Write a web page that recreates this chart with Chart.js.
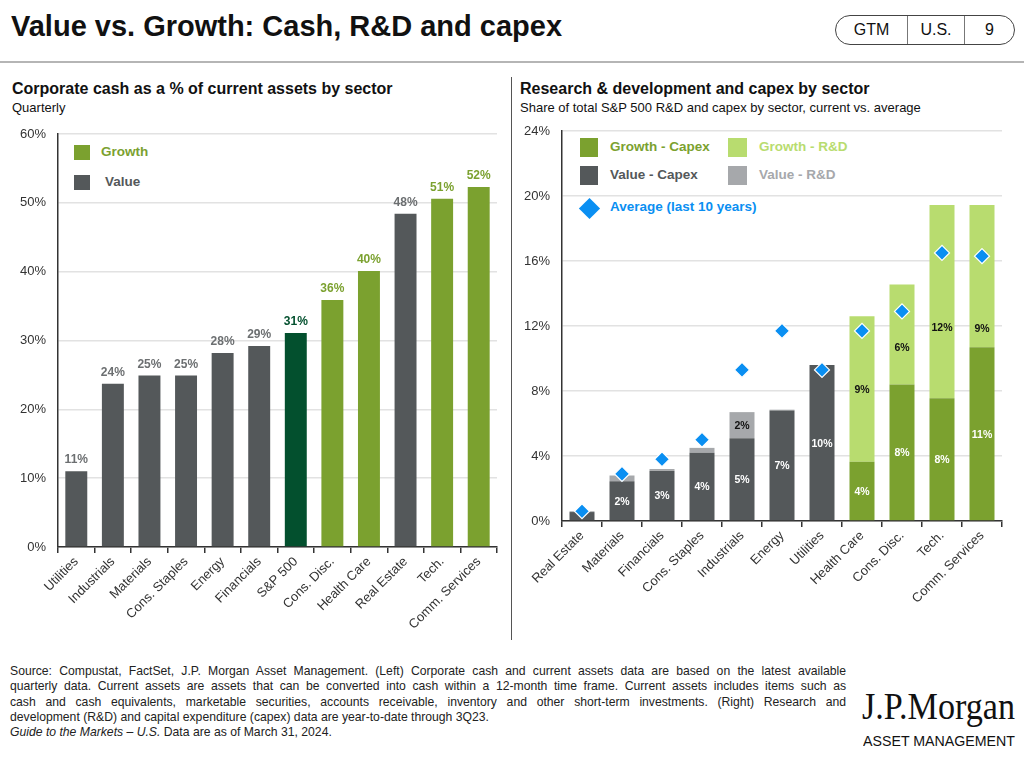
<!DOCTYPE html>
<html>
<head>
<meta charset="utf-8">
<script src="https://cdn.jsdelivr.net/npm/chart.js@4.4.1/dist/chart.umd.min.js"></script>
<style>
  html,body{margin:0;padding:0;background:#fff;}
  body{width:1024px;height:757px;position:relative;overflow:hidden;font-family:"Liberation Sans",Arial,sans-serif;color:#111;}
  .abs{position:absolute;white-space:nowrap;}
  .fit{display:inline-block;transform-origin:0 50%;}
  #title{left:11px;top:8px;font-size:29px;font-weight:bold;color:#111;line-height:36px;}
  #pill{position:absolute;left:835px;top:15px;width:178px;height:28px;border:1.3px solid #444;border-radius:15px;display:flex;font-size:16px;color:#111;}
  #pill div{display:flex;align-items:center;justify-content:center;}
  #hline{position:absolute;left:0;top:61px;width:1024px;height:2px;background:#b5b5b5;}
  #vline{position:absolute;left:511px;top:77px;width:1px;height:563px;background:#555;}
  .ptitle{font-size:16px;font-weight:bold;color:#111;}
  .psub{font-size:13px;color:#111;}
  .leg{font-size:13.5px;font-weight:bold;}
  .sq{position:absolute;}
  #foot{position:absolute;left:10px;top:664px;width:836px;font-size:12.2px;line-height:15.3px;color:#222;}
  #foot div{text-align:justify;text-align-last:justify;white-space:nowrap;}
  #foot div.last{text-align-last:left;}
  canvas{position:absolute;}
</style>
</head>
<body>
<div id="title" class="abs"><span class="fit" id="titleSpan">Value vs. Growth: Cash, R&amp;D and capex</span></div>
<div id="pill"><div style="width:71px;border-right:1px solid #777;">GTM</div><div style="width:56px;border-right:1px solid #777;">U.S.</div><div style="flex:1;">9</div></div>
<div id="hline"></div>
<div id="vline"></div>

<div class="abs ptitle" style="left:12px;top:80px;">Corporate cash as a % of current assets by sector</div>
<div class="abs psub" style="left:12px;top:100px;">Quarterly</div>
<div class="abs ptitle" style="left:520px;top:80px;">Research &amp; development and capex by sector</div>
<div class="abs psub" style="left:520px;top:100px;">Share of total S&amp;P 500 R&amp;D and capex by sector, current vs. average</div>

<!-- left legend -->
<div class="sq" style="left:74px;top:145px;width:16px;height:15px;background:#7ba12f;"></div>
<div class="abs leg" style="left:101px;top:144px;color:#7ba12f;">Growth</div>
<div class="sq" style="left:74px;top:175px;width:16px;height:15px;background:#54585a;"></div>
<div class="abs leg" style="left:105px;top:174px;color:#54585a;">Value</div>

<!-- right legend -->
<div class="sq" style="left:580px;top:138px;width:18px;height:19px;background:#7ba12f;"></div>
<div class="abs leg" style="left:610px;top:139px;color:#7ba12f;">Growth - Capex</div>
<div class="sq" style="left:728px;top:138px;width:19px;height:19px;background:#b8dc6f;"></div>
<div class="abs leg" style="left:759px;top:139px;color:#b8dc6f;">Growth - R&amp;D</div>
<div class="sq" style="left:580px;top:166px;width:18px;height:19px;background:#54585a;"></div>
<div class="abs leg" style="left:610px;top:167px;color:#54585a;">Value - Capex</div>
<div class="sq" style="left:728px;top:166px;width:19px;height:19px;background:#a6a8ab;"></div>
<div class="abs leg" style="left:759px;top:167px;color:#a6a8ab;">Value - R&amp;D</div>
<div class="sq" style="left:582px;top:201px;width:15px;height:15px;background:#0a8ff2;transform:rotate(45deg);"></div>
<div class="abs leg" style="left:610px;top:199px;color:#0a8ff2;">Average (last 10 years)</div>

<canvas id="cL" width="510" height="525" style="left:0;top:120px;"></canvas>
<canvas id="cR" width="505" height="525" style="left:515px;top:120px;"></canvas>

<div id="foot">
<div>Source: Compustat, FactSet, J.P. Morgan Asset Management. (Left) Corporate cash and current assets data are based on the latest available</div>
<div>quarterly data. Current assets are assets that can be converted into cash within a 12-month time frame. Current assets includes items such as</div>
<div>cash and cash equivalents, marketable securities, accounts receivable, inventory and other short-term investments. (Right) Research and</div>
<div class="last">development (R&amp;D) and capital expenditure (capex) data are year-to-date through 3Q23.</div>
<div class="last"><i>Guide to the Markets – U.S.</i> Data are as of March 31, 2024.</div>
</div>

<div class="abs" style="left:862px;top:688px;font-family:'Liberation Serif','DejaVu Serif',serif;font-size:37px;line-height:38px;color:#111;"><span class="fit" id="logo1">J.P.Morgan</span></div>
<div class="abs" style="left:863px;top:733px;font-size:15px;line-height:16px;color:#111;"><span class="fit" id="logo2">ASSET MANAGEMENT</span></div>

<script>
// ---------- DATA ----------
const cashSectors = ['Utilities','Industrials','Materials','Cons. Staples','Energy','Financials','S&P 500','Cons. Disc.','Health Care','Real Estate','Tech.','Comm. Services'];
const cashGroups  = ['V','V','V','V','V','V','S','G','G','V','G','G'];
const cashValues  = [11.0, 23.7, 24.9, 24.9, 28.2, 29.2, 31.1, 35.9, 40.1, 48.4, 50.6, 52.3];
const cashTicks   = [0, 10, 20, 30, 40, 50, 60];

const rdSectors = ['Real Estate','Materials','Financials','Cons. Staples','Industrials','Energy','Utilities','Health Care','Cons. Disc.','Tech.','Comm. Services'];
const rdGroups  = ['V','V','V','V','V','V','V','G','G','G','G'];
const capexValues = [0.55, 2.45, 3.1, 4.2, 5.1, 6.8, 9.6, 3.65, 8.4, 7.55, 10.7];
const rndValues   = [0.05, 0.35, 0.1, 0.3, 1.6, 0.05, 0.0, 8.95, 6.15, 11.9, 8.75];
const avgValues   = [0.6, 2.9, 3.8, 5.0, 9.3, 11.7, 9.3, 11.7, 12.9, 16.5, 16.3];
const rdTicks     = [0, 4, 8, 12, 16, 20, 24];

// ---------- STYLE ----------
const C = {green:'#7ba12f', gray:'#54585a', dark:'#03502e', lgreen:'#b8dc6f', lgray:'#a6a8ab', blue:'#0a8ff2'};
const FONT = '"Liberation Sans", Arial, sans-serif';
Chart.defaults.font.family = FONT;
Chart.defaults.color = '#333';

function fitTo(id, w){ const el=document.getElementById(id); const s=w/el.getBoundingClientRect().width; el.style.transform='scaleX('+s+')'; }
fitTo('titleSpan', 551);
fitTo('logo1', 153);
fitTo('logo2', 152);

function noPad(s){ s.paddingTop=0; s.paddingBottom=0; s.paddingLeft=0; s.paddingRight=0; }

// ---------- LEFT CHART ----------
const cashBarColor = g => g==='G'?C.green:(g==='S'?C.dark:C.gray);
const cashLblColor = g => g==='G'?C.green:(g==='S'?C.dark:'#6c6f71');
new Chart(document.getElementById('cL'), {
  type:'bar',
  data:{labels:cashSectors, datasets:[{data:cashValues, backgroundColor:cashGroups.map(cashBarColor), borderWidth:0, barPercentage:0.6, categoryPercentage:1}]},
  options:{
    responsive:false, animation:false, devicePixelRatio:1,
    layout:{padding:{top:14, right:13, left:0, bottom:0}},
    plugins:{legend:{display:false}, tooltip:{enabled:false}},
    scales:{
      x:{grid:{display:true, drawOnChartArea:false, color:'#333', tickLength:6, lineWidth:1.5, offset:true},
         border:{color:'#333', width:1.5},
         ticks:{minRotation:45, maxRotation:45, autoSkip:false, color:'#333', font:{size:13}, padding:1},
         afterFit(s){ s.height = 525-427; noPad(s); }},
      y:{min:0, max:60, afterBuildTicks(s){ s.ticks = cashTicks.map(v=>({value:v})); },
         ticks:{callback:v=>v+'%', color:'#333', font:{size:13}, padding:12},
         grid:{color:'#e2e2e2', drawTicks:false, lineWidth:1.5},
         border:{color:'#333', width:1.5},
         afterFit(s){ s.width = 58; noPad(s); }}
    }
  },
  plugins:[{id:'cashLbl', afterDatasetsDraw(c){
    const ctx=c.ctx, m=c.getDatasetMeta(0);
    ctx.save(); ctx.font='bold 12px '+FONT; ctx.textAlign='center'; ctx.textBaseline='alphabetic';
    m.data.forEach((b,i)=>{ ctx.fillStyle=cashLblColor(cashGroups[i]); ctx.fillText(Math.round(cashValues[i])+'%', b.x, b.y-8); });
    ctx.restore();
  }}]
});

// ---------- RIGHT CHART ----------
const rndShift = {8:13, 9:25, 10:52};
new Chart(document.getElementById('cR'), {
  type:'bar',
  data:{labels:rdSectors, datasets:[
    {label:'Capex', data:capexValues, backgroundColor:rdGroups.map(g=>g==='G'?C.green:C.gray), borderWidth:0, barPercentage:0.625, categoryPercentage:1, order:1},
    {label:'R&D', data:rndValues, backgroundColor:rdGroups.map(g=>g==='G'?C.lgreen:C.lgray), borderWidth:0, barPercentage:0.625, categoryPercentage:1, order:1},
    {label:'Average (last 10 years)', type:'line', data:avgValues, stack:'avg', showLine:false, pointStyle:'rectRot', pointRadius:7.5, pointBackgroundColor:C.blue, pointBorderColor:'#fff', pointBorderWidth:1.2, order:0}
  ]},
  options:{
    responsive:false, animation:false, devicePixelRatio:1,
    layout:{padding:{top:11, right:18, left:0, bottom:0}},
    plugins:{legend:{display:false}, tooltip:{enabled:false}},
    scales:{
      x:{stacked:true,
         grid:{display:true, drawOnChartArea:false, color:'#333', tickLength:6, lineWidth:1.5, offset:true},
         border:{color:'#333', width:1.5},
         ticks:{minRotation:45, maxRotation:45, autoSkip:false, color:'#333', font:{size:13}, padding:1},
         afterFit(s){ s.height = 525-401; noPad(s); }},
      y:{stacked:true, min:0, max:24, afterBuildTicks(s){ s.ticks = rdTicks.map(v=>({value:v})); },
         ticks:{callback:v=>v+'%', color:'#333', font:{size:13}, padding:12},
         grid:{color:'#e2e2e2', drawTicks:false, lineWidth:1.5},
         border:{color:'#333', width:1.5},
         afterFit(s){ s.width = 47; noPad(s); }}
    }
  },
  plugins:[{id:'rdLbl', afterDatasetsDraw(c){
    const ctx=c.ctx;
    ctx.save(); ctx.font='bold 10.5px '+FONT; ctx.textAlign='center'; ctx.textBaseline='middle';
    [[0,capexValues,'#fff'],[1,rndValues,'#111']].forEach(([di,vals,col])=>{
      c.getDatasetMeta(di).data.forEach((b,i)=>{
        if(vals[i] < 1.5) return;
        let y=(b.y+b.base)/2; if(di===1 && rndShift[i]) y+=rndShift[i];
        ctx.fillStyle=col; ctx.fillText(Math.round(vals[i])+'%', b.x, y+1);
      });
    });
    ctx.restore();
  }}]
});
</script>
</body>
</html>
